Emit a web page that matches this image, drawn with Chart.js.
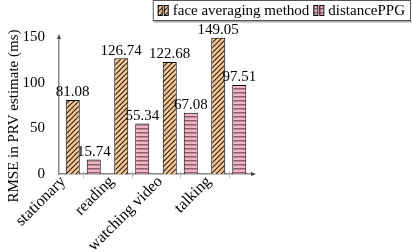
<!DOCTYPE html>
<html>
<head>
<meta charset="utf-8">
<script src="https://cdn.jsdelivr.net/npm/chart.js@4.4.1/dist/chart.umd.min.js"></script>
<style>
  html, body { margin: 0; padding: 0; background: #fff; }
  #wrap { width: 412px; height: 252px; position: relative; }
</style>
</head>
<body>
<div id="wrap"><canvas id="rmseChart" width="412" height="252"></canvas></div>
<script>
// data
const categories = ["stationary", "reading", "watching video", "talking"];
const faceAvg = [81.08, 126.74, 122.68, 149.05];
const distPPG = [15.74, 55.34, 67.08, 97.51];
const yTicks = [0, 50, 100, 150];
const seriesNames = ["face averaging method", "distancePPG"];

const FONT = "Liberation Serif";

// hatch fills
function diagPattern() {
  const c = document.createElement("canvas");
  c.width = 5; c.height = 5;
  const g = c.getContext("2d");
  g.fillStyle = "#f7c796";
  g.fillRect(0, 0, 5, 5);
  g.strokeStyle = "#2a1f14";
  g.lineWidth = 1.1;
  g.beginPath();
  g.moveTo(-1, 6); g.lineTo(6, -1);
  g.moveTo(-1, 1); g.lineTo(1, -1);
  g.moveTo(4, 6); g.lineTo(6, 4);
  g.stroke();
  return g.createPattern(c, "repeat");
}
function stripePattern() {
  const c = document.createElement("canvas");
  c.width = 4; c.height = 4;
  const g = c.getContext("2d");
  g.fillStyle = "#f1b5c6";
  g.fillRect(0, 0, 4, 4);
  g.fillStyle = "#8a5d6a";
  g.fillRect(0, 0, 4, 1.5);
  return g.createPattern(c, "repeat");
}
const faceFill = diagPattern();
const ppgFill = stripePattern();

// value labels above bars
const barLabels = {
  id: "barLabels",
  afterDatasetsDraw(chart) {
    const ctx = chart.ctx;
    ctx.save();
    ctx.font = "15px '" + FONT + "'";
    ctx.fillStyle = "#000";
    ctx.textAlign = "center";
    ctx.textBaseline = "bottom";
    chart.data.datasets.forEach((ds, i) => {
      chart.getDatasetMeta(i).data.forEach((bar, j) => {
        ctx.fillText(ds.data[j].toFixed(2), bar.x, bar.y);
      });
    });
    ctx.restore();
  }
};

// arrows, x tick marks + rotated labels, y title and boxed legend
const decorations = {
  id: "decorations",
  afterDraw(chart) {
    const ctx = chart.ctx;
    const a = chart.chartArea;
    const xs = chart.scales.x;
    ctx.save();
    ctx.fillStyle = "#444";
    ctx.beginPath();
    ctx.moveTo(a.left, a.top - 3);
    ctx.lineTo(a.left - 2, a.top + 2);
    ctx.lineTo(a.left + 2, a.top + 2);
    ctx.fill();
    ctx.beginPath();
    ctx.moveTo(a.right + 3, a.bottom);
    ctx.lineTo(a.right - 2, a.bottom - 2);
    ctx.lineTo(a.right - 2, a.bottom + 2);
    ctx.fill();

    ctx.strokeStyle = "#bbb";
    ctx.lineWidth = 1;
    ctx.font = "16px '" + FONT + "'";
    categories.forEach((c, i) => {
      const px = xs.getPixelForTick(i);
      const x = Math.round(px) + 0.5;
      ctx.beginPath();
      ctx.moveTo(x, a.bottom - 3);
      ctx.lineTo(x, a.bottom + 4);
      ctx.stroke();
      ctx.save();
      ctx.translate(px - 20, a.bottom + 5);
      ctx.rotate(-Math.PI / 4);
      ctx.fillStyle = "#000";
      ctx.textAlign = "right";
      ctx.textBaseline = "middle";
      ctx.fillText(c, 0, 0);
      ctx.restore();
    });

    // y axis title
    ctx.font = "15px '" + FONT + "'";
    ctx.fillStyle = "#000";
    ctx.textAlign = "center";
    ctx.textBaseline = "middle";
    ctx.translate(14, 116);
    ctx.rotate(-Math.PI / 2);
    ctx.fillText("RMSE in PRV estimate (ms)", 0, 0);
    ctx.setTransform(1, 0, 0, 1, 0, 0);

    // legend box
    ctx.font = "15px '" + FONT + "'";
    const w0 = ctx.measureText(seriesNames[0]).width;
    const w1 = ctx.measureText(seriesNames[1]).width;
    const bw = 5 + 15 + w0 + 4 + 15 + w1 + 6, bh = 21;
    const bx = 411 - bw, by = 0;
    ctx.fillStyle = "#aaa";
    ctx.fillRect(bx + 1, by + bh, bw, 1.5);
    ctx.fillStyle = "#fff";
    ctx.fillRect(bx, by, bw, bh);
    ctx.strokeStyle = "#555";
    ctx.strokeRect(bx + 0.5, by + 0.5, bw - 1, bh - 1);
    ctx.textBaseline = "middle";
    ctx.textAlign = "left";
    let x = bx + 5;
    [faceFill, ppgFill].forEach((fill, i) => {
      for (let k = 0; k < 2; k++) {
        ctx.fillStyle = fill;
        ctx.fillRect(x + k * 6, 5, 4, 10);
        ctx.strokeStyle = "#000";
        ctx.strokeRect(x + k * 6 + 0.5, 5.5, 4, 10);
      }
      x += 15;
      ctx.fillStyle = "#000";
      ctx.fillText(seriesNames[i], x, 11);
      x += (i === 0 ? w0 : w1) + 4;
    });
    ctx.restore();
  }
};

function draw() {
  new Chart(document.getElementById("rmseChart"), {
    type: "bar",
    data: {
      labels: categories,
      datasets: [
        { label: seriesNames[0], data: faceAvg, backgroundColor: faceFill, borderColor: "#000", borderWidth: 1 },
        { label: seriesNames[1], data: distPPG, backgroundColor: ppgFill, borderColor: "#000", borderWidth: 1 }
      ]
    },
    options: {
      responsive: false,
      animation: false,
      categoryPercentage: 0.866,
      barPercentage: 0.667,
      layout: { padding: { left: 0, top: 37, right: 159, bottom: 0 } },
      plugins: { legend: { display: false }, tooltip: { enabled: false } },
      scales: {
        x: {
          grid: { display: false, drawTicks: false },
          border: { color: "#888", width: 1.5 },
          ticks: { display: false },
          afterFit(s) { s.height = 78; }
        },
        y: {
          min: 0, max: 150,
          grid: { display: false },
          border: { color: "#888", width: 1.5 },
          afterBuildTicks(s) { s.ticks = yTicks.map(v => ({ value: v })); },
          ticks: { color: "#000", font: { family: FONT, size: 15 }, padding: 6 },
          afterFit(s) { s.width = 59; }
        }
      }
    },
    plugins: [barLabels, decorations]
  });
}

document.fonts.load("15px '" + FONT + "'").then(draw, draw);
</script>
</body>
</html>
